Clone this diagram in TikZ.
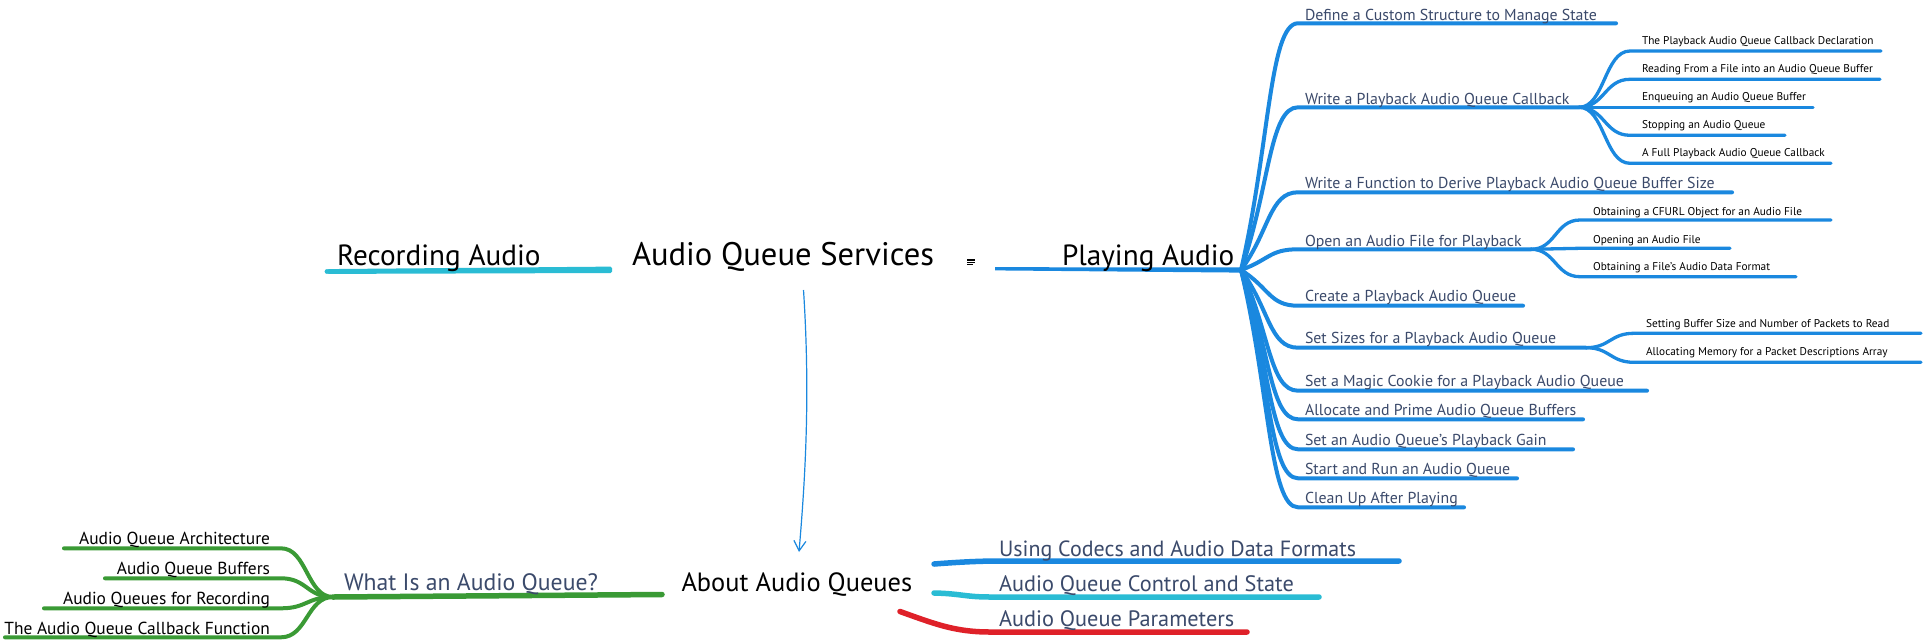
\documentclass[tikz,border=0pt]{standalone}
\usepackage{fontspec}
\setmainfont{PT Sans}
\usetikzlibrary{calc,arrows.meta}
\definecolor{pblue}{HTML}{1A88DF}
\definecolor{rcyan}{HTML}{2ABCD4}
\definecolor{wgreen}{HTML}{3A9A35}
\definecolor{pred}{HTML}{DF2129}
\definecolor{slate}{HTML}{3B4A6B}
\tikzset{
  lbl/.style={anchor=base west, inner sep=0pt, outer sep=0pt},
  lblr/.style={anchor=base east, inner sep=0pt, outer sep=0pt},
  ttwo/.style={lbl, text=slate, font=\fontsize{15.85}{18}\selectfont},
  tthree/.style={lbl, text=black, font=\fontsize{11.3}{13}\selectfont},
  tbig/.style={lbl, text=black, font=\fontsize{29.2}{32}\selectfont},
  tcenter/.style={lbl, text=black, font=\fontsize{32.6}{36}\selectfont},
  tmid/.style={lbl, text=slate, font=\fontsize{22.3}{26}\selectfont},
  tgreen/.style={lblr, text=black, font=\fontsize{17.4}{20}\selectfont},
  brtwo/.style={draw=pblue, line width=4pt, line cap=round, line join=round},
  brthree/.style={draw=pblue, line width=3.3pt, line cap=round, line join=round},
  brgreen/.style={draw=wgreen, line width=4pt, line cap=round, line join=round},
}
\newcommand\mmTrunk[4]{\draw[#1] (#2) .. controls ($(#2)!0.5!(#3)$) and ($(#3)!0.5!(#2|-#3)$) .. (#3) -- (#4);}
\newcommand\mmS[4]{\draw[#1] (#2) .. controls ($(#2)!0.5!(#3|-#2)$) and ($(#3)!0.5!(#2|-#3)$) .. (#3) -- (#4);}
\begin{document}
\begin{tikzpicture}[x=1pt,y=-1pt]
\useasboundingbox (0,0) rectangle (1926,643);
\fill[white] (0,0) rectangle (1926,643);

% ---------- coordinates: Playing Audio branch ----------
\coordinate (R) at (1241,270);
\coordinate (p1) at (1298,23.3);   \coordinate (p1e) at (1616,23.3);
\coordinate (p2) at (1298,107.3);  \coordinate (J2) at (1579,107.3);
\coordinate (p3) at (1298,192.3);  \coordinate (p3e) at (1732,192.3);
\coordinate (p4) at (1298,249.3);  \coordinate (J4) at (1531,249.3);
\coordinate (p5) at (1298,305.7);  \coordinate (p5e) at (1523,305.7);
\coordinate (p6) at (1298,347.7);  \coordinate (J6) at (1586,347.7);
\coordinate (p7) at (1298,390.7);  \coordinate (p7e) at (1647,390.7);
\coordinate (p8) at (1298,419.3);  \coordinate (p8e) at (1583,419.3);
\coordinate (p9) at (1298,449.3);  \coordinate (p9e) at (1573,449.3);
\coordinate (p10) at (1298,478.3); \coordinate (p10e) at (1517,478.3);
\coordinate (p11) at (1298,507.3); \coordinate (p11e) at (1464,507.3);

\coordinate (q21) at (1630,51);    \coordinate (q21e) at (1881,51);
\coordinate (q22) at (1630,79.3);  \coordinate (q22e) at (1880,79.3);
\coordinate (q23) at (1630,107.3); \coordinate (q23e) at (1813,107.3);
\coordinate (q24) at (1630,135.3); \coordinate (q24e) at (1785,135.3);
\coordinate (q25) at (1630,163.3); \coordinate (q25e) at (1831,163.3);
\coordinate (q41) at (1580,220);   \coordinate (q41e) at (1831,220);
\coordinate (q42) at (1580,248.3); \coordinate (q42e) at (1730,248.3);
\coordinate (q43) at (1580,276.7); \coordinate (q43e) at (1796,276.7);
\coordinate (q61) at (1634,333.3); \coordinate (q61e) at (1921,333.3);
\coordinate (q62) at (1634,362.3); \coordinate (q62e) at (1921,362.3);

% trunk branches
\mmTrunk{brtwo}{R}{p1}{p1e}
\mmTrunk{brtwo}{R}{p2}{J2}
\mmTrunk{brtwo}{R}{p3}{p3e}
\mmTrunk{brtwo}{R}{p4}{J4}
\mmTrunk{brtwo}{R}{p5}{p5e}
\mmTrunk{brtwo}{R}{p6}{J6}
\mmTrunk{brtwo}{R}{p7}{p7e}
\mmTrunk{brtwo}{R}{p8}{p8e}
\mmTrunk{brtwo}{R}{p9}{p9e}
\mmTrunk{brtwo}{R}{p10}{p10e}
\mmTrunk{brtwo}{R}{p11}{p11e}
% sub branches
\mmS{brthree}{J2}{q21}{q21e}
\mmS{brthree}{J2}{q22}{q22e}
\draw[brthree] (J2) -- (q23e);
\mmS{brthree}{J2}{q24}{q24e}
\mmS{brthree}{J2}{q25}{q25e}
\mmS{brthree}{J4}{q41}{q41e}
\mmS{brthree}{J4}{q42}{q42e}
\mmS{brthree}{J4}{q43}{q43e}
\mmS{brthree}{J6}{q61}{q61e}
\mmS{brthree}{J6}{q62}{q62e}

% ---------- central area ----------
\coordinate (recE) at (612,269.8);  \coordinate (recW) at (327,271.5);
\coordinate (playW) at (995,268.8);
% tapered main branches
\fill[rcyan, rounded corners=1.5pt] ($(recE)+(0,-3.2)$) -- ($(recW)+(0,-2.4)$) -- ($(recW)+(0,2.4)$) -- ($(recE)+(0,3.2)$) -- cycle;
\fill[rcyan] (recW) circle (2.4);
\fill[pblue] ($(playW)+(0,-1.6)$) -- ($(R)+(0,-2.6)$) -- ($(R)+(0,2.6)$) -- ($(playW)+(0,1.6)$) -- cycle;

\node[tcenter] (acs) at (632,265.7) {Audio Queue Services};
\node[tbig] (rec) at (337,265.7) {Recording Audio};
\node[tbig] (play) at (1062,265.7) {Playing Audio};
% note icon
\node[inner sep=0pt, minimum width=8pt, minimum height=6pt] (note) at (971.3,261.5) {};
\draw[black, line width=0.8pt] (967.3,259) -- (975.3,259) (967.3,260.8) -- (975.3,260.8)
  (967.3,262.6) -- (975.3,262.6) (967.3,264.4) -- (972.5,264.4);

% level-2 labels
\node[ttwo] (n1) at (1305,20) {Define a Custom Structure to Manage State};
\node[ttwo] (n2) at (1305,104) {Write a Playback Audio Queue Callback};
\node[ttwo] (n3) at (1305,188) {Write a Function to Derive Playback Audio Queue Buffer Size};
\node[ttwo] (n4) at (1305,246) {Open an Audio File for Playback};
\node[ttwo] (n5) at (1305,301) {Create a Playback Audio Queue};
\node[ttwo] (n6) at (1305,343.3) {Set Sizes for a Playback Audio Queue};
\node[ttwo] (n7) at (1305,386) {Set a Magic Cookie for a Playback Audio Queue};
\node[ttwo] (n8) at (1305,415.7) {Allocate and Prime Audio Queue Buffers};
\node[ttwo] (n9) at (1305,445.7) {Set an Audio Queue’s Playback Gain};
\node[ttwo] (n10) at (1305,474.3) {Start and Run an Audio Queue};
\node[ttwo] (n11) at (1305,503.3) {Clean Up After Playing};
% level-3 labels
\node[tthree] (m21) at (1642,44.3) {The Playback Audio Queue Callback Declaration};
\node[tthree] (m22) at (1642,72.7) {Reading From a File into an Audio Queue Buffer};
\node[tthree] (m23) at (1642,100.7) {Enqueuing an Audio Queue Buffer};
\node[tthree] (m24) at (1642,128.7) {Stopping an Audio Queue};
\node[tthree] (m25) at (1642,156.7) {A Full Playback Audio Queue Callback};
\node[tthree] (m41) at (1593,215) {Obtaining a CFURL Object for an Audio File};
\node[tthree] (m42) at (1593,243.3) {Opening an Audio File};
\node[tthree] (m43) at (1593,270.7) {Obtaining a File’s Audio Data Format};
\node[tthree] (m61) at (1646,327.3) {Setting Buffer Size and Number of Packets to Read};
\node[tthree] (m62) at (1646,355) {Allocating Memory for a Packet Descriptions Array};

% ---------- arrow ----------
\coordinate (acsS) at (803.5,290);
\coordinate (aboutN) at (799,552);
\draw[pblue, line width=1.2pt, -{Straight Barb[length=10pt,width=12pt]}]
  (acsS) .. controls (810,390) and (806,470) .. (aboutN);

% ---------- bottom: About Audio Queues ----------
\coordinate (WJ) at (333,597);
\coordinate (whatE) at (662,594.5);
\coordinate (g1) at (281,548.3); \coordinate (g1e) at (64,548.3);
\coordinate (g2) at (281,578.3); \coordinate (g2e) at (105,578.3);
\coordinate (g3) at (281,608.3); \coordinate (g3e) at (44,608.3);
\coordinate (g4) at (281,637.3); \coordinate (g4e) at (5,637.3);
\draw[wgreen, line width=5.5pt, line cap=round] (WJ) -- (whatE);
\mmS{brgreen}{WJ}{g1}{g1e}
\mmS{brgreen}{WJ}{g2}{g2e}
\mmS{brgreen}{WJ}{g3}{g3e}
\mmS{brgreen}{WJ}{g4}{g4e}

\coordinate (ub) at (934,564);
\coordinate (ubh) at (1000,561); \coordinate (ube) at (1399,561);
\coordinate (uc) at (934,593);
\coordinate (uch) at (990,597); \coordinate (uce) at (1319,597);
\coordinate (ur) at (900,611.5);
\coordinate (urh) at (990,632); \coordinate (ure) at (1247,632);
\draw[pblue, line width=5.5pt, line cap=round] (ub) .. controls (960,562) and (980,561) .. (ubh) -- (ube);
\draw[rcyan, line width=5.5pt, line cap=round] (uc) .. controls (960,593.5) and (965,597) .. (uch) -- (uce);
\draw[pred, line width=5.5pt, line cap=round] (ur) .. controls (935,624) and (955,632) .. (urh) -- (ure);

\node[lbl, text=black, font=\fontsize{26.4}{30}\selectfont] (about) at (681.5,591.7) {About Audio Queues};
\node[tmid, font=\fontsize{23.7}{27}\selectfont] (what) at (344,590.7) {What Is an Audio Queue?};
\node[tgreen] (w1) at (270,544.3) {Audio Queue Architecture};
\node[tgreen] (w2) at (270,574.3) {Audio Queue Buffers};
\node[tgreen] (w3) at (270,604.3) {Audio Queues for Recording};
\node[tgreen] (w4) at (270,634) {The Audio Queue Callback Function};
\node[tmid, font=\fontsize{22}{26}\selectfont] (a1) at (999,556.7) {Using Codecs and Audio Data Formats};
\node[tmid] (a2) at (999,591.7) {Audio Queue Control and State};
\node[tmid] (a3) at (999,626.7) {Audio Queue Parameters};
\end{tikzpicture}
\end{document}
